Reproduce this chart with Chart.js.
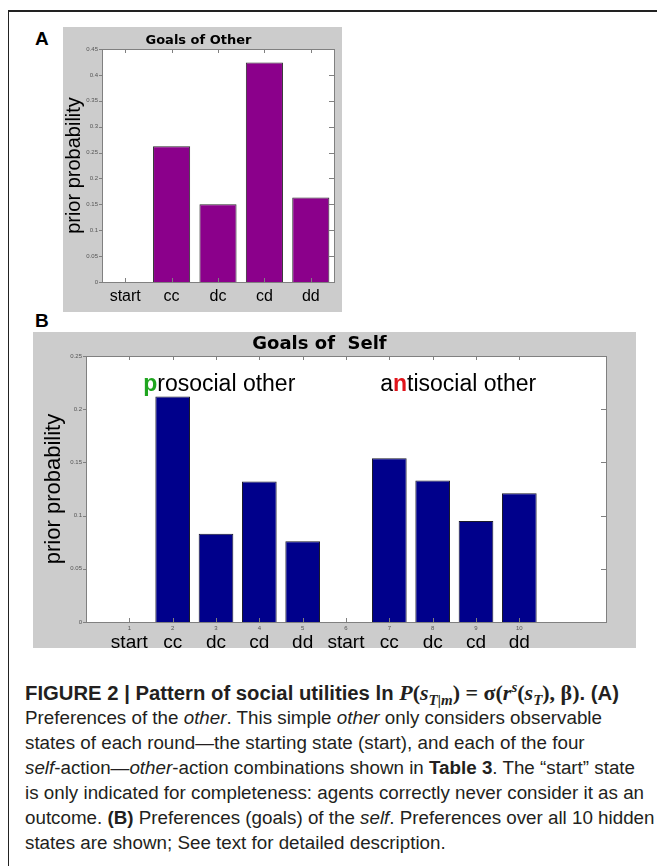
<!DOCTYPE html>
<html>
<head>
<meta charset="utf-8">
<script src="https://cdn.jsdelivr.net/npm/chart.js@4"></script>
<style>
  html, body { margin: 0; padding: 0; background: #fff; }
  #page { position: relative; width: 657px; height: 866px; overflow: hidden; }
  .frame { position: absolute; left: 8px; top: 10px; width: 700px; height: 900px;
           border-left: 1px solid #222; border-top: 2px solid #222; }
  .panel-letter { position: absolute; font: bold 19px "Liberation Sans", Arial, sans-serif; color: #000; }
  .gray { position: absolute; background: #cccccc; }
  canvas { position: absolute; }
  #caption { position: absolute; left: 25px; top: 680px; width: 760px; white-space: nowrap;
             font-family: "Liberation Sans", Arial, sans-serif;
             font-size: 18.8px; line-height: 25px; color: #231f20; }
  #caption .head { font-weight: bold; font-size: 20.3px; letter-spacing: 0; height: 25px; }
  #caption .math { font-family: "Liberation Serif", serif; font-style: italic; font-size: 22px; }
  #caption .sym { font-family: "Liberation Serif", serif; font-size: 22px; }
  #caption sub, #caption sup { line-height: 0; font-size: 15px; }
</style>
</head>
<body>
<div id="page">
  <div class="frame"></div>
  <div class="panel-letter" style="left:35px; top:28px;">A</div>
  <div class="panel-letter" style="left:35px; top:310px;">B</div>
  <div class="gray" style="left:63px; top:27px; width:279px; height:285px;"></div>
  <div class="gray" style="left:33px; top:332px; width:603px; height:316px;"></div>
  <canvas id="otherChart" style="left:63px; top:27px;" width="308" height="285"></canvas>
  <canvas id="selfChart" style="left:0px; top:332px;" width="635" height="316"></canvas>
  <div id="caption">
    <div class="head">FIGURE 2 | Pattern of social utilities ln <span class="math">P</span><span class="sym">(</span><span class="math">s<sub>T|m</sub></span><span class="sym">) = σ(</span><span class="math">r<sup>s</sup></span><span class="sym">(</span><span class="math">s<sub>T</sub></span><span class="sym">), β)</span>. (A)</div>
    <div class="body">
      Preferences of the <i>other</i>. This simple <i>other</i> only considers observable<br>
      states of each round—the starting state (start), and each of the four<br>
      <i>self</i>-action—<i>other</i>-action combinations shown in <b>Table 3</b>. The “start” state<br>
      is only indicated for completeness: agents correctly never consider it as an<br>
      outcome. <b>(B)</b> Preferences (goals) of the <i>self</i>. Preferences over all 10 hidden<br>
      states are shown; See text for detailed description.
    </div>
  </div>
</div>
<script>
// panel A: goals of the other
const otherStates = ['start', 'cc', 'dc', 'cd', 'dd'];
const otherPrior = [0, 0.262, 0.150, 0.424, 0.163];

// panel B: goals of the self, 10 hidden states
const selfStateIds = [1, 2, 3, 4, 5, 6, 7, 8, 9, 10];
const selfStateNames = ['start', 'cc', 'dc', 'cd', 'dd', 'start', 'cc', 'dc', 'cd', 'dd'];
const selfPrior = [0, 0.212, 0.083, 0.132, 0.076, 0, 0.154, 0.133, 0.095, 0.121];

const otherYMax = 0.45, selfYMax = 0.25, yStep = 0.05;

const sans = '"Liberation Sans", Arial, sans-serif';
const tickFont = { family: sans, size: 6 };

// matlab-style white axes box with tick marks
const axesBox = {
  id: 'axesBox',
  beforeDraw(chart) {
    const { ctx, chartArea: a } = chart;
    ctx.save();
    ctx.fillStyle = '#fff';
    ctx.fillRect(a.left, a.top, a.right - a.left, a.bottom - a.top);
    ctx.restore();
  },
  afterDatasetsDraw(chart) {
    const { ctx, chartArea: a } = chart;
    const y = chart.scales.y, x = chart.scales.x;
    ctx.save();
    ctx.strokeStyle = '#808080';
    ctx.lineWidth = 1;
    ctx.beginPath();
    y.ticks.forEach(t => {
      const py = Math.round(y.getPixelForValue(t.value)) + 0.5;
      ctx.moveTo(a.left - 3, py); ctx.lineTo(a.left, py);
      ctx.moveTo(a.right - 5, py); ctx.lineTo(a.right, py);
    });
    x.ticks.forEach((t, i) => {
      if (x.type === 'linear' && !(t.value >= 1 && t.value <= 10)) return;
      const px = Math.round(x.type === 'linear' ? x.getPixelForValue(t.value) : x.getPixelForTick(i)) + 0.5;
      ctx.moveTo(px, a.top); ctx.lineTo(px, a.top + 4);
      ctx.moveTo(px, a.bottom); ctx.lineTo(px, a.bottom - 4);
    });
    ctx.stroke();
    ctx.strokeRect(Math.round(a.left) + 0.5, Math.round(a.top) + 0.5,
                   Math.round(a.right - a.left), Math.round(a.bottom - a.top));
    ctx.restore();
  }
};

// "prosocial other" / "antisocial other" with one highlighted letter
function drawMarked(ctx, parts, x, y) {
  parts.forEach(p => {
    ctx.font = (p.bold ? 'bold ' : '') + '23px ' + sans;
    ctx.fillStyle = p.color || '#000';
    ctx.fillText(p.text, x, y);
    x += ctx.measureText(p.text).width;
  });
}

const groupLabels = {
  id: 'groupLabels',
  afterDatasetsDraw(chart) {
    const { ctx } = chart;
    const x = chart.scales.x, y = chart.scales.y;
    ctx.save();
    ctx.textBaseline = 'middle';
    ctx.textAlign = 'left';
    drawMarked(ctx, [{ text: 'p', bold: true, color: '#1fa51f' }, { text: 'rosocial other' }],
      x.getPixelForValue(1.32), y.getPixelForValue(0.2235));
    drawMarked(ctx, [{ text: 'a' }, { text: 'n', bold: true, color: '#e0141b' }, { text: 'tisocial other' }],
      x.getPixelForValue(6.79), y.getPixelForValue(0.2235));
    ctx.restore();
  }
};

new Chart(document.getElementById('otherChart'), {
  type: 'bar',
  data: {
    labels: otherStates,
    datasets: [{
      data: otherPrior,
      backgroundColor: '#8b008b',
      borderColor: '#2a2a2a',
      borderWidth: 1,
      categoryPercentage: 1,
      barPercentage: 0.8,
    }]
  },
  options: {
    responsive: false,
    animation: false,
    layout: { padding: { left: 0, right: 37, top: 0, bottom: 0 } },
    plugins: {
      legend: { display: false },
      tooltip: { enabled: false },
      title: {
        display: true, text: 'Goals of Other', color: '#000',
        font: { family: 'DejaVu Sans', weight: 'bold', size: 13 },
        padding: { top: 6, bottom: 0.4 }
      }
    },
    scales: {
      x: {
        grid: { display: false }, border: { display: false },
        ticks: { color: '#000', font: { family: sans, size: 16 }, padding: -3, maxRotation: 0, autoSkip: false },
        afterFit: s => { s.height = 30; }
      },
      y: {
        min: 0, max: otherYMax,
        grid: { display: false, drawTicks: false }, border: { display: false },
        ticks: { stepSize: yStep, color: '#555', font: tickFont, padding: 4, callback: v => +v.toFixed(2) },
        title: { display: true, text: 'prior probability', color: '#000',
                 font: { family: sans, size: 20 }, padding: { top: -1, bottom: 0 } },
        afterFit: s => { s.width = 39; }
      }
    }
  },
  plugins: [axesBox]
});

new Chart(document.getElementById('selfChart'), {
  type: 'bar',
  data: {
    datasets: [{
      data: selfStateIds.map((id, i) => ({ x: id, y: selfPrior[i] })),
      backgroundColor: '#00008b',
      borderColor: '#1a1a2a',
      borderWidth: 1,
      categoryPercentage: 1,
      barPercentage: 0.8,
    }]
  },
  options: {
    responsive: false,
    animation: false,
    layout: { padding: { left: 33, right: 29, top: 0, bottom: 0 } },
    plugins: {
      legend: { display: false },
      tooltip: { enabled: false },
      title: {
        display: true, text: 'Goals of  Self', color: '#000',
        font: { family: 'DejaVu Sans', weight: 'bold', size: 18 },
        padding: { top: 2, bottom: 0.4 }
      }
    },
    scales: {
      x: {
        type: 'linear', min: 0, max: 12, offset: false, weight: 0,
        grid: { display: false, drawTicks: false }, border: { display: false },
        ticks: { stepSize: 1, color: '#555', font: tickFont, padding: 3, maxRotation: 0, autoSkip: false,
                 callback: v => (v >= 1 && v <= 10 ? String(v) : '') },
        afterFit: s => { s.height = 9; }
      },
      names: {
        type: 'linear', position: 'bottom', min: 0, max: 12, offset: false, weight: 1,
        grid: { display: false, drawTicks: false }, border: { display: false },
        ticks: { stepSize: 1, color: '#000', font: { family: sans, size: 19 }, padding: 0,
                 maxRotation: 0, autoSkip: false,
                 callback: v => selfStateNames[selfStateIds.indexOf(v)] || '' },
        afterFit: s => { s.height = 17; }
      },
      y: {
        min: 0, max: selfYMax,
        grid: { display: false, drawTicks: false }, border: { display: false },
        ticks: { stepSize: yStep, color: '#555', font: tickFont, padding: 4, callback: v => +v.toFixed(2) },
        title: { display: true, text: 'prior probability', color: '#000',
                 font: { family: sans, size: 22 }, padding: { top: 8, bottom: 0 } },
        afterFit: s => { s.width = 53; }
      }
    }
  },
  plugins: [axesBox, groupLabels]
});
</script>
</body>
</html>
